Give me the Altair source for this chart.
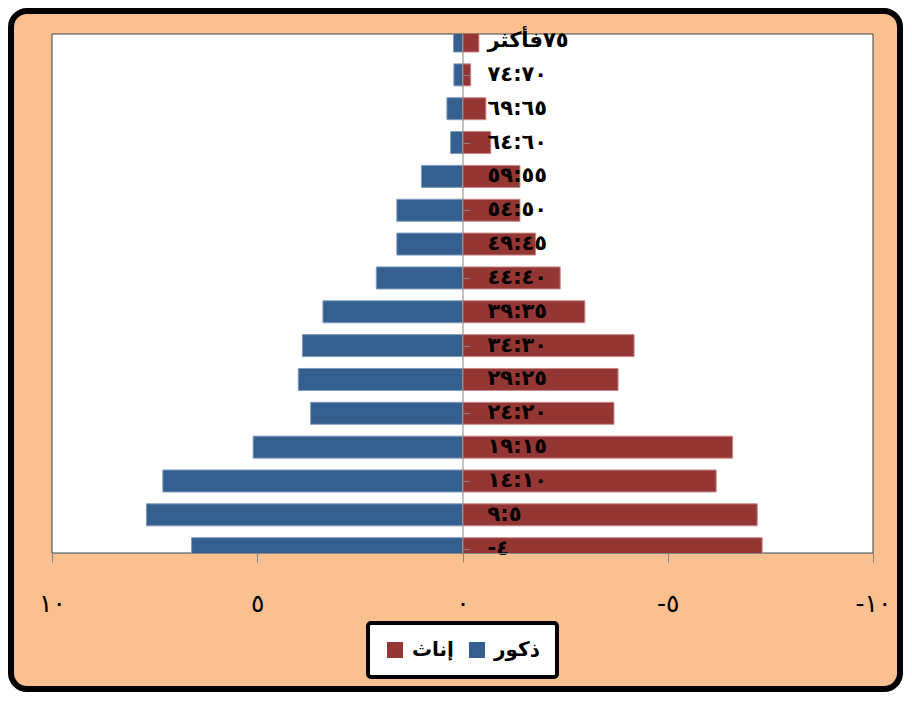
import altair as alt
import pandas as pd

# Age groups (bottom to top), as displayed
ages = ["-٤", "٩:٥", "١٤:١٠", "١٩:١٥", "٢٤:٢٠", "٢٩:٢٥", "٣٤:٣٠", "٣٩:٣٥",
        "٤٤:٤٠", "٤٩:٤٥", "٥٤:٥٠", "٥٩:٥٥", "٦٤:٦٠", "٦٩:٦٥", "٧٤:٧٠", "٧٥فأكثر"]
males = [6.6, 7.7, 7.3, 5.1, 3.7, 4.0, 3.9, 3.4, 2.1, 1.6, 1.6, 1.0, 0.29, 0.38, 0.21, 0.22]
females = [-7.3, -7.18, -6.18, -6.58, -3.69, -3.79, -4.18, -2.98, -2.38, -1.78,
           -1.40, -1.40, -0.69, -0.57, -0.20, -0.40]
series = ["ذكور", "إناث"]
tick_values = [-10, -5, 0, 5, 10]
tick_labels = ["-١٠", "-٥", "٠", "٥", "١٠"]

PEACH = "#FAC090"
BLUE = "#355F8F"
RED = "#933634"
BLUE_EDGE = "#7E9CC2"
RED_EDGE = "#C98A88"

W, H = 821, 519

rows = []
for i, a in enumerate(ages):
    rows.append({"idx": i, "age": a, "sex": series[0], "value": males[i]})
    rows.append({"idx": i, "age": a, "sex": series[1], "value": females[i]})
long_df = pd.DataFrame(rows)
age_df = pd.DataFrame({"idx": list(range(len(ages))), "label": ages})

label_expr = " : ".join(
    f"datum.value == {v} ? '{l}'" for v, l in zip(tick_values, tick_labels)
) + " : ''"

xscale = alt.Scale(domain=[-10, 10], reverse=True, nice=False)
yscale = alt.Scale(domain=[0.02, 15.06], nice=False, zero=False)

one = pd.DataFrame({"k": [0]})

frame = alt.Chart(one).mark_rect(
    fill=PEACH, stroke="black", strokeWidth=6, cornerRadius=16
).encode(x=alt.value(-41), x2=alt.value(848), y=alt.value(-23), y2=alt.value(655))

plotbg = alt.Chart(one).mark_rect(
    fill="white", stroke="#404040", strokeWidth=1
).encode(x=alt.value(0), x2=alt.value(W), y=alt.value(0), y2=alt.value(H))

bars = alt.Chart(long_df).mark_bar(
    clip=True, orient="horizontal", size=22, strokeWidth=1
).encode(
    x=alt.X("value:Q", scale=xscale,
            axis=alt.Axis(values=tick_values, labelExpr=label_expr, title=None,
                          grid=False, domainColor="#868686", tickColor="#868686",
                          tickSize=9, labelFontSize=25, labelFont="DejaVu Sans",
                          labelColor="black", labelPadding=29, labelFlush=False,
                          zindex=1)),
    x2=alt.datum(0),
    y=alt.Y("idx:Q", scale=yscale,
            axis=alt.Axis(orient="right", offset=-(W / 2), values=list(range(16)),
                          labels=False, title=None, grid=False,
                          domainColor="#868686", tickColor="#868686", tickSize=7,
                          zindex=1)),
    color=alt.Color("sex:N",
                    scale=alt.Scale(domain=[series[1], series[0]], range=[RED, BLUE]),
                    legend=alt.Legend(title=None, orient="none", legendX=316, legendY=589,
                                      direction="horizontal", symbolType="square",
                                      symbolSize=256, symbolStrokeWidth=0,
                                      labelFontSize=20, labelFontWeight="bold",
                                      labelFont="DejaVu Sans", labelColor="black",
                                      fillColor="white", strokeColor="black",
                                      padding=17, cornerRadius=3, columnPadding=13,
                                      labelOffset=7)),
    stroke=alt.Stroke("sex:N",
                      scale=alt.Scale(domain=[series[1], series[0]], range=[RED_EDGE, BLUE_EDGE]),
                      legend=None),
)

labels = alt.Chart(age_df).mark_text(
    align="left", baseline="middle", dx=25, fontSize=21, fontWeight="bold",
    font="DejaVu Sans", color="black"
).encode(x=alt.datum(0), y=alt.Y("idx:Q"), text="label:N")

chart = alt.layer(frame, plotbg, bars, labels).properties(
    width=W, height=H,
    padding={"left": 44, "top": 26, "right": 31, "bottom": 140},
    autosize=alt.AutoSizeParams(type="none"),
    background="white",
).configure_view(stroke=None).configure_legend(strokeWidth=4)

chart.save("out.html", embed_options={"renderer": "svg", "actions": False})
